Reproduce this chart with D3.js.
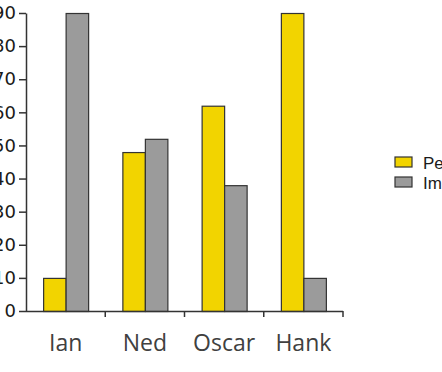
<!DOCTYPE html>
<html>
<head>
<meta charset="utf-8">
<script src="https://cdn.jsdelivr.net/npm/d3@7"></script>
<style>
  html, body { margin: 0; padding: 0; background: #fff; overflow: hidden; }
</style>
</head>
<body>
<div id="chartContainer"></div>
<script>
// Chart data
const categories = ["Ian", "Ned", "Oscar", "Hank"];
const seriesNames = ["Personal", "Impersonal"];
const personalValues = [10, 48, 62, 90];
const impersonalValues = [90, 52, 38, 10];
const yTicks = [0, 10, 20, 30, 40, 50, 60, 70, 80, 90];

const colors = ["#f2d400", "#9b9b9b"];
const width = 442;
const height = 372;
const margin = { top: 13, right: 99, bottom: 61, left: 26 };

const data = categories.map((c, i) => ({
  category: c,
  values: [personalValues[i], impersonalValues[i]]
}));

const svg = d3.select("#chartContainer")
  .append("svg")
  .attr("width", width)
  .attr("height", height);

// Scales
const x0 = d3.scaleBand()
  .domain(categories)
  .range([margin.left, width - margin.right])
  .padding(0);

const groupWidth = 45;
const x1 = d3.scaleBand()
  .domain(seriesNames)
  .range([0, groupWidth]);

const y = d3.scaleLinear()
  .domain([0, 90])
  .range([height - margin.bottom, margin.top]);

// Bars
const groups = svg.selectAll(".group")
  .data(data)
  .enter()
  .append("g")
  .attr("transform", d => `translate(${x0(d.category) + (x0.bandwidth() - groupWidth) / 2}, 0)`);

groups.selectAll("rect")
  .data(d => d.values.map((v, i) => ({ series: seriesNames[i], value: v, idx: i })))
  .enter()
  .append("rect")
  .attr("x", d => x1(d.series) + 0.5)
  .attr("y", d => y(d.value) + 0.5)
  .attr("width", x1.bandwidth())
  .attr("height", d => y(0) - y(d.value))
  .attr("fill", d => colors[d.idx])
  .attr("stroke", "#333")
  .attr("stroke-width", 1.2);

// Y axis
const yAxis = svg.append("g")
  .attr("transform", `translate(${margin.left}, 0)`)
  .call(d3.axisLeft(y).tickValues(yTicks).tickSize(7).tickSizeOuter(0).tickPadding(3));
yAxis.select(".domain").attr("stroke", "#333").attr("stroke-width", 1.5);
yAxis.selectAll(".tick line").attr("stroke", "#333").attr("stroke-width", 1.5);
yAxis.selectAll("text")
  .attr("fill", "#1a1a1a")
  .style("font-family", "'DejaVu Sans', sans-serif")
  .style("font-size", "18px");

// X axis line with ticks at band boundaries
svg.append("line")
  .attr("x1", margin.left)
  .attr("x2", x0.range()[1])
  .attr("y1", y(0) + 0.5)
  .attr("y2", y(0) + 0.5)
  .attr("stroke", "#333")
  .attr("stroke-width", 1.5);

svg.selectAll(".xtick")
  .data(categories)
  .enter()
  .append("line")
  .attr("x1", d => x0(d) + x0.bandwidth())
  .attr("x2", d => x0(d) + x0.bandwidth())
  .attr("y1", y(0))
  .attr("y2", y(0) + 6)
  .attr("stroke", "#333")
  .attr("stroke-width", 1.5);

svg.selectAll(".xlabel")
  .data(categories)
  .enter()
  .append("text")
  .attr("x", d => x0(d) + x0.bandwidth() / 2)
  .attr("y", height - 21)
  .attr("text-anchor", "middle")
  .attr("fill", "#404040")
  .style("font-family", "'Open Sans', sans-serif")
  .style("font-size", "23px")
  .text(d => d);

// Legend
const legend = svg.selectAll(".legend")
  .data(seriesNames)
  .enter()
  .append("g")
  .attr("transform", (d, i) => `translate(395, ${157 + i * 20})`);

legend.append("rect")
  .attr("width", 17)
  .attr("height", 10)
  .attr("fill", (d, i) => colors[i])
  .attr("stroke", "#333")
  .attr("stroke-width", 1.2);

legend.append("text")
  .attr("x", 28)
  .attr("y", 12)
  .attr("fill", "#1a1a1a")
  .style("font-family", "'Liberation Sans', Arial, sans-serif")
  .style("font-size", "17px")
  .text(d => d);
</script>
</body>
</html>
